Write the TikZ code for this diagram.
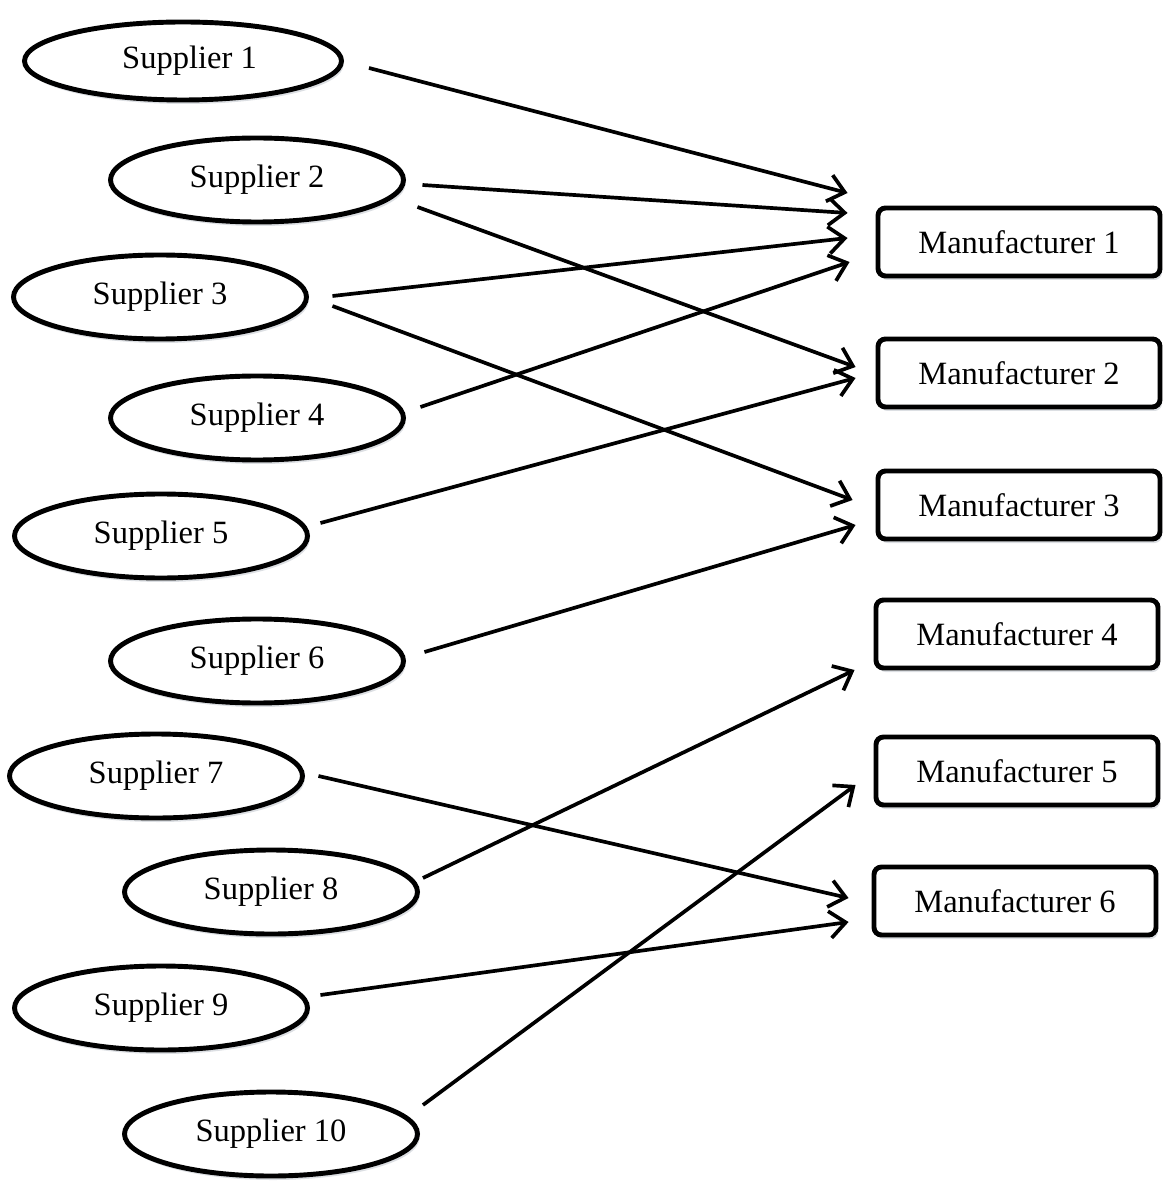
\documentclass[tikz,border=0pt]{standalone}
\usepackage{fontspec}
\setmainfont{Liberation Serif}
\usepackage{xcolor}
\definecolor{vizShadow}{HTML}{9CA3AF}
\usetikzlibrary{shapes.geometric,arrows.meta,shadows}

\begin{document}
\begin{tikzpicture}[
  supplier/.style={ellipse, draw, line width=2.8pt, fill=white, minimum width=5.86cm, minimum height=1.68cm, inner sep=0pt,
    drop shadow={fill=vizShadow, opacity=0.35, shadow xshift=0.04cm, shadow yshift=-0.08cm},
    font=\fontsize{18.5}{22}\selectfont},
  maker/.style={rectangle, rounded corners=0.15cm, draw, line width=2.8pt, fill=white, minimum width=5.64cm, minimum height=1.36cm, inner sep=0pt,
    drop shadow={fill=vizShadow, opacity=0.35, shadow xshift=0.04cm, shadow yshift=-0.08cm},
    font=\fontsize{18.5}{22}\selectfont},
  link/.style={line width=2.1pt, -{Straight Barb[length=0.32cm, width=0.54cm, line width=2.1pt]}}
]
  \useasboundingbox (0,0) rectangle (23.3,-23.74);
  \node[supplier, minimum width=6.34cm, minimum height=1.56cm] (S1) at (3.66,-1.22) {\hspace*{0.26cm}Supplier 1};
  \node[supplier] (S2) at (5.14,-3.60) {Supplier 2};
  \node[supplier] (S3) at (3.20,-5.94) {Supplier 3};
  \node[supplier] (S4) at (5.14,-8.36) {Supplier 4};
  \node[supplier] (S5) at (3.22,-10.72) {Supplier 5};
  \node[supplier] (S6) at (5.14,-13.22) {Supplier 6};
  \node[supplier] (S7) at (3.12,-15.52) {Supplier 7};
  \node[supplier] (S8) at (5.42,-17.84) {Supplier 8};
  \node[supplier] (S9) at (3.22,-20.16) {Supplier 9};
  \node[supplier] (S10) at (5.42,-22.68) {Supplier 10};
  \node[maker] (M1) at (20.38,-4.84) {Manufacturer 1};
  \node[maker] (M2) at (20.38,-7.46) {Manufacturer 2};
  \node[maker] (M3) at (20.38,-10.10) {Manufacturer 3};
  \node[maker] (M4) at (20.34,-12.68) {Manufacturer 4};
  \node[maker] (M5) at (20.34,-15.42) {Manufacturer 5};
  \node[maker] (M6) at (20.30,-18.02) {Manufacturer 6};
  \draw[link] ([shift={(0.50,-0.14)}]S1.east) -- ([shift={(-0.56,0.98)}]M1.west);
  \draw[link] ([shift={(0.33,-0.10)}]S2.east) -- ([shift={(-0.56,0.58)}]M1.west);
  \draw[link] ([shift={(0.23,-0.54)}]S2.east) -- ([shift={(-0.40,0.12)}]M2.west);
  \draw[link] ([shift={(0.47,0.02)}]S3.east) -- ([shift={(-0.56,0.08)}]M1.west);
  \draw[link] ([shift={(0.47,-0.18)}]S3.east) -- ([shift={(-0.46,0.10)}]M3.west);
  \draw[link] ([shift={(0.29,0.22)}]S4.east) -- ([shift={(-0.52,-0.40)}]M1.west);
  \draw[link] ([shift={(0.21,0.26)}]S5.east) -- ([shift={(-0.40,-0.10)}]M2.west);
  \draw[link] ([shift={(0.37,0.18)}]S6.east) -- ([shift={(-0.40,-0.40)}]M3.west);
  \draw[link] ([shift={(0.27,0.00)}]S7.east) -- ([shift={(-0.46,0.06)}]M6.west);
  \draw[link] ([shift={(0.06,0.28)}]S8.east) -- ([shift={(-0.38,-0.72)}]M4.west);
  \draw[link] ([shift={(0.21,0.26)}]S9.east) -- ([shift={(-0.46,-0.42)}]M6.west);
  \draw[link] ([shift={(0.06,0.58)}]S10.east) -- ([shift={(-0.36,-0.28)}]M5.west);
\end{tikzpicture}
\end{document}
